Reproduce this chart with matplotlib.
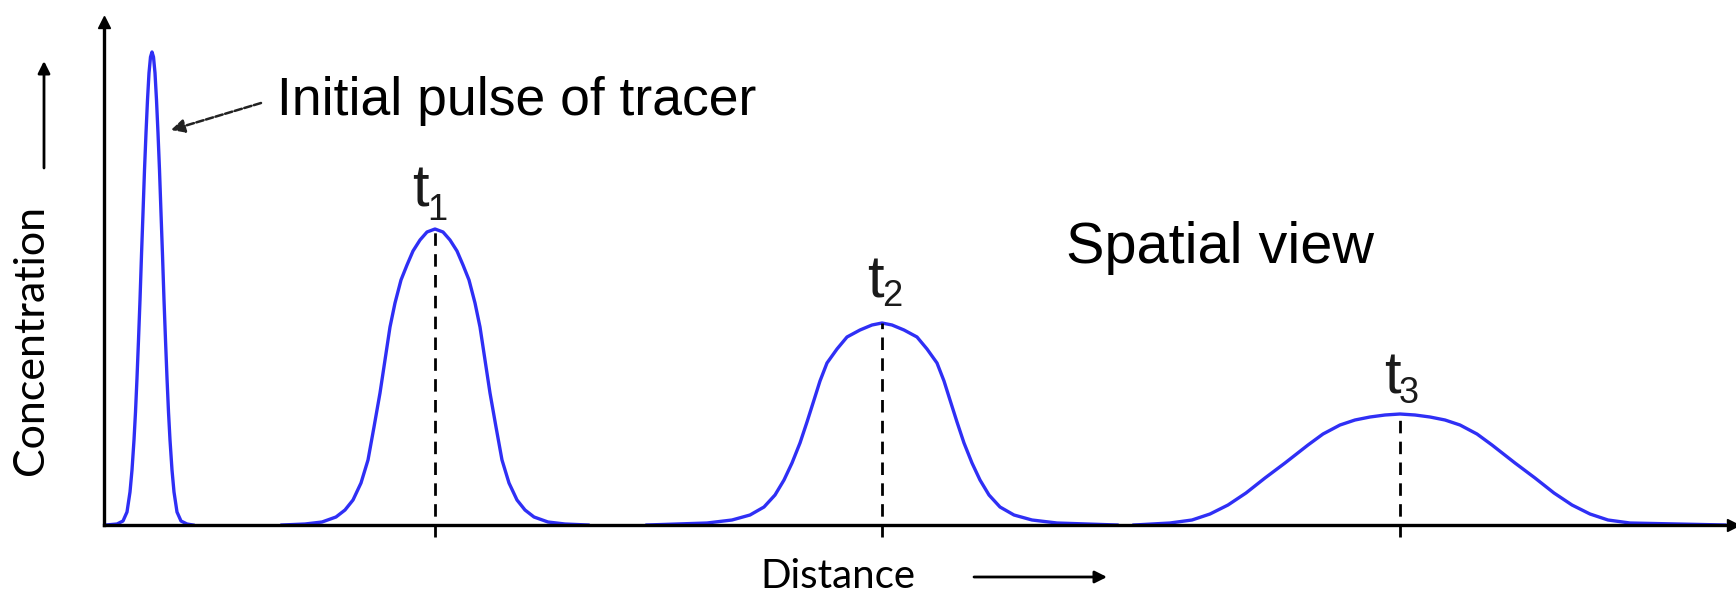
import matplotlib
matplotlib.use("Agg")
import matplotlib.pyplot as plt
from matplotlib.patches import FancyArrowPatch

# distance / concentration (arbitrary units)
pulse_x = [0.02, 0.13, 0.19, 0.23, 0.26, 0.28, 0.30, 0.315, 0.33, 0.345, 0.36, 0.375,
           0.39, 0.405, 0.42, 0.435, 0.45, 0.465, 0.48,
           0.495, 0.51, 0.525, 0.54, 0.555, 0.57, 0.585, 0.60, 0.615, 0.63, 0.645,
           0.66, 0.68, 0.70, 0.73, 0.77, 0.83, 0.89]
pulse_y = [0.00, 0.01, 0.04, 0.13, 0.33, 0.55, 0.85, 1.13, 1.47, 1.85, 2.25, 2.70,
           3.12, 3.55, 3.92, 4.25, 4.52, 4.68, 4.73,
           4.68, 4.52, 4.25, 3.92, 3.55, 3.12, 2.70, 2.25, 1.85, 1.47, 1.13,
           0.85, 0.55, 0.33, 0.13, 0.04, 0.01, 0.00]

t1_x = [1.78, 2.01, 2.18, 2.32, 2.41, 2.49, 2.57, 2.64, 2.70, 2.76, 2.81, 2.86,
        2.91, 2.97, 3.03, 3.09, 3.16, 3.23, 3.31,
        3.39, 3.46, 3.53, 3.59, 3.65, 3.71, 3.76, 3.81, 3.86, 3.92, 3.98, 4.05,
        4.13, 4.21, 4.30, 4.44, 4.61, 4.84]
t1_y = [0.00, 0.01, 0.03, 0.08, 0.15, 0.25, 0.42, 0.65, 0.98, 1.32, 1.65, 1.98,
        2.22, 2.45, 2.60, 2.74, 2.85, 2.93, 2.96,
        2.93, 2.85, 2.74, 2.60, 2.45, 2.22, 1.98, 1.65, 1.32, 0.98, 0.65, 0.42,
        0.25, 0.15, 0.08, 0.03, 0.01, 0.00]

t2_x = [5.43, 6.03, 6.28, 6.46, 6.60, 6.71, 6.80, 6.88, 6.96, 7.03, 7.10, 7.16,
        7.23, 7.33, 7.43, 7.56, 7.68, 7.78,
        7.88, 8.00, 8.13, 8.23, 8.33, 8.40, 8.46, 8.53, 8.60, 8.68, 8.76, 8.85,
        8.96, 9.10, 9.28, 9.53, 10.13]
t2_y = [0.00, 0.02, 0.05, 0.10, 0.18, 0.30, 0.45, 0.62, 0.82, 1.03, 1.25, 1.44,
        1.62, 1.76, 1.88, 1.95, 2.00, 2.02,
        2.00, 1.95, 1.88, 1.76, 1.62, 1.44, 1.25, 1.03, 0.82, 0.62, 0.45, 0.30,
        0.18, 0.10, 0.05, 0.02, 0.00]

t3_x = [10.30, 10.66, 10.88, 11.06, 11.24, 11.42, 11.61, 11.81, 12.04, 12.19, 12.36,
        12.51, 12.66, 12.81, 12.96,
        13.11, 13.26, 13.41, 13.56, 13.73, 13.88, 14.11, 14.31, 14.50, 14.68, 14.86,
        15.04, 15.26, 16.21]
t3_y = [0.00, 0.02, 0.05, 0.11, 0.20, 0.32, 0.47, 0.62, 0.80, 0.91, 1.00,
        1.05, 1.08, 1.10, 1.11,
        1.10, 1.08, 1.05, 1.00, 0.91, 0.80, 0.62, 0.47, 0.32, 0.20, 0.11,
        0.05, 0.02, 0.00]

peak_x = [3.31, 7.78, 12.96]
peak_y = [2.96, 2.02, 1.11]
# "t" with a subscript index over each peak
t_label_x = [3.16, 7.71, 12.88]
t_label_y = [3.19, 2.28, 1.32]
sub_labels = ["1", "2", "3"]
sub_x = [3.33, 7.88, 13.05]
sub_y = [3.05, 2.19, 1.22]

W, H = 1736, 597
fig = plt.figure(figsize=(W / 100, H / 100), dpi=100)
ax = fig.add_axes([104 / W, 72 / H, (1733 - 104) / W, (525 - 22) / H])
ax.set_xlim(0, 16.29)
ax.set_ylim(0, 5.03)
ax.set_xticks([])
ax.set_yticks([])
for side in ("top", "right"):
    ax.spines[side].set_visible(False)
for side in ("left", "bottom"):
    ax.spines[side].set_linewidth(2.4)
    ax.spines[side].set_color("black")
ax.plot(1, 0, marker=">", ms=8, color="black", transform=ax.transAxes, clip_on=False)
ax.plot(0, 1, marker="^", ms=8, color="black", transform=ax.transAxes, clip_on=False)

blue = "#2f2ff5"
for xs, ys in ((pulse_x, pulse_y), (t1_x, t1_y), (t2_x, t2_y), (t3_x, t3_y)):
    ax.plot(xs, ys, color=blue, lw=2.4, solid_joinstyle="round", clip_on=False)

ax.vlines(peak_x, -0.12, peak_y, colors="black", lw=2.0,
          linestyles=(0, (4.5, 3.0)), clip_on=False)
for tx, ty, sx, sy, sub in zip(t_label_x, t_label_y, sub_x, sub_y, sub_labels):
    ax.text(tx, ty, "t", ha="center", va="baseline", fontsize=43,
            family="Liberation Sans", color="#1a1a1a")
    ax.text(sx, sy, sub, ha="center", va="baseline", fontsize=26,
            family="Liberation Sans", color="#1a1a1a")

ax.text(1.73, 4.24, "Initial pulse of tracer", ha="left", va="center",
        fontsize=38.5, family="Liberation Sans")
ax.annotate("", xy=(0.67, 3.95), xytext=(1.57, 4.22),
            arrowprops=dict(arrowstyle="-|>", color="#222222", lw=1.8,
                            linestyle=(0, (3, 1)), mutation_scale=20,
                            shrinkA=0, shrinkB=0))
ax.text(9.62, 2.77, "Spatial view", ha="left", va="center", fontsize=41.5,
        family="Liberation Sans")

fig.text(31 / W, 1 - 340 / H, "Concentration", rotation=90, ha="center",
         va="center", fontsize=31, family="Lato")
fig.text(760 / W, 1 - 576 / H, "Distance", ha="left", va="center",
         fontsize=29, family="Lato")
arrow = dict(arrowstyle="-|>", color="black", lw=2, mutation_scale=18,
             shrinkA=0, shrinkB=0)
fig.add_artist(FancyArrowPatch((44 / W, 1 - 168 / H), (44 / W, 1 - 61 / H),
                               transform=fig.transFigure, **arrow))
fig.add_artist(FancyArrowPatch((974 / W, 1 - 577 / H), (1107 / W, 1 - 577 / H),
                               transform=fig.transFigure, **arrow))

fig.savefig("out.png", dpi=100)
